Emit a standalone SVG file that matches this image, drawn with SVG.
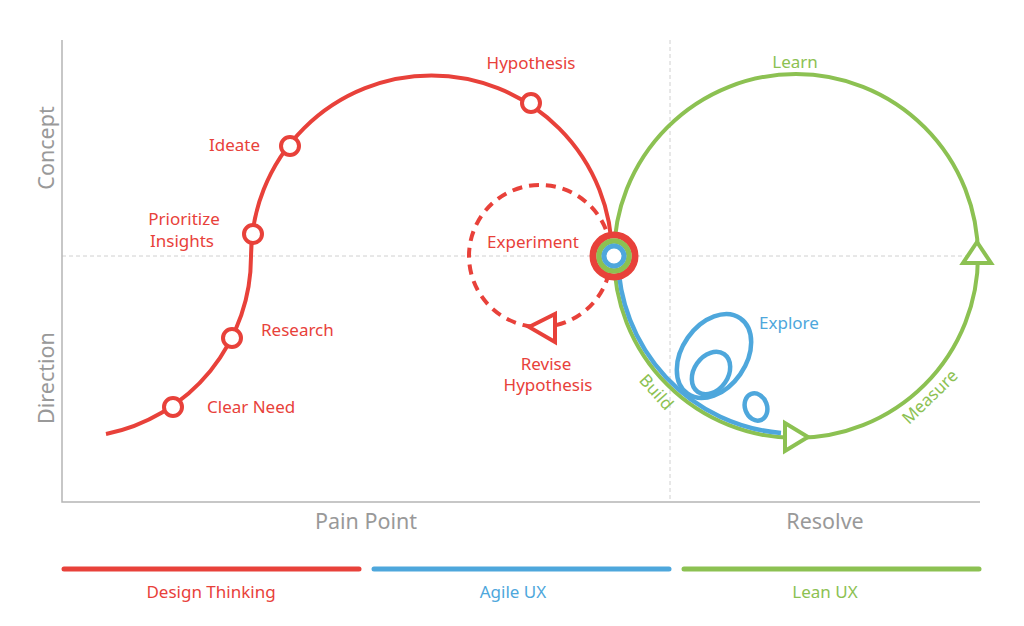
<svg xmlns="http://www.w3.org/2000/svg" width="1024" height="626" viewBox="0 0 1024 626">
<style>
.red{stroke:#e8413a;fill:none;stroke-width:4}
.grn{stroke:#8cc152;fill:none;stroke-width:4}
.blu{stroke:#4ea7dc;fill:none;stroke-width:4.5}
.node{fill:#fff;stroke:#e8413a;stroke-width:4}
.tr{fill:#e8413a}
.tg{fill:#8cc152}
.tb{fill:#4ea7dc}
.lbl{font-family:"Noto Sans","Liberation Sans",sans-serif;font-size:17px}
.ax{font-family:"Noto Sans","Liberation Sans",sans-serif;font-size:21.5px;fill:#999}
.grid{stroke:#d0d0d0;stroke-width:1;stroke-dasharray:4 3;fill:none}
</style>
<rect width="1024" height="626" fill="#fff"/>
<g id="axes">
<line class="grid" x1="62" y1="256" x2="980" y2="256"/>
<line class="grid" x1="670" y1="40" x2="670" y2="502"/>
<path d="M62,40 V502 H980" fill="none" stroke="#b5b5b5" stroke-width="1.5"/>
<text class="ax" transform="translate(54,148) rotate(-90)" text-anchor="middle">Concept</text>
<text class="ax" transform="translate(54,378) rotate(-90)" text-anchor="middle">Direction</text>
<text class="ax" x="366" y="529" text-anchor="middle">Pain Point</text>
<text class="ax" x="825" y="529" text-anchor="middle">Resolve</text>
</g>
<g id="connectors">
<circle class="red" cx="540" cy="256" r="71" stroke-dasharray="10 7"/>
<path class="red" d="M106,434 A181,181 0 0 0 251,256 A180.5,180.5 0 0 1 612,256"/>
<circle class="grn" cx="796" cy="256" r="182"/>
<path class="blu" d="M618,258 A178,178 0 0 0 781,433"/>
<ellipse class="blu" cx="714" cy="356" rx="46" ry="32" transform="rotate(-55 714 356)"/>
<ellipse class="blu" cx="711" cy="373" rx="23" ry="17" transform="rotate(-55 711 373)"/>
<ellipse class="blu" cx="756" cy="407" rx="11" ry="14" transform="rotate(-20 756 407)"/>
<polygon points="529,327 555,314 555,342" fill="#fff" stroke="#e8413a" stroke-width="4"/>
<polygon points="785,423 785,451 808,437" fill="#fff" stroke="#8cc152" stroke-width="4"/>
<polygon points="977,242 963,263 991,263" fill="#fff" stroke="#8cc152" stroke-width="4"/>
</g>
<g id="n-clear-need"><circle class="node" cx="173" cy="407" r="9"/><text class="lbl tr" x="207" y="413">Clear Need</text></g>
<g id="n-research"><circle class="node" cx="232" cy="338" r="9"/><text class="lbl tr" x="261" y="336">Research</text></g>
<g id="n-prioritize"><circle class="node" cx="253" cy="234" r="9"/><text class="lbl tr" x="184" y="225" text-anchor="middle">Prioritize</text><text class="lbl tr" x="182" y="247" text-anchor="middle">Insights</text></g>
<g id="n-ideate"><circle class="node" cx="290" cy="146" r="9"/><text class="lbl tr" x="260" y="151" text-anchor="end">Ideate</text></g>
<g id="n-hypothesis"><circle class="node" cx="531" cy="103" r="9"/><text class="lbl tr" x="531" y="69" text-anchor="middle">Hypothesis</text></g>
<g id="n-experiment"><text class="lbl tr" x="533" y="248" text-anchor="middle">Experiment</text></g>
<g id="n-revise"><text class="lbl tr" x="546" y="370" text-anchor="middle">Revise</text><text class="lbl tr" x="548" y="391" text-anchor="middle">Hypothesis</text></g>
<g id="n-center">
<circle cx="614" cy="256" r="21" fill="#fff" stroke="#e8413a" stroke-width="7"/>
<circle cx="614" cy="256" r="15" fill="none" stroke="#8cc152" stroke-width="5.5"/>
<circle cx="614" cy="256" r="10" fill="#fff" stroke="#4ea7dc" stroke-width="5"/>
</g>
<g id="n-learn"><text class="lbl tg" x="795" y="68" text-anchor="middle">Learn</text></g>
<g id="n-explore"><text class="lbl tb" x="759" y="329">Explore</text></g>
<g id="n-build"><text class="lbl tg" transform="translate(652,396) rotate(48)" text-anchor="middle">Build</text></g>
<g id="n-measure"><text class="lbl tg" transform="translate(934,401) rotate(-44)" text-anchor="middle">Measure</text></g>
<g id="legend">
<line x1="64" y1="569" x2="359" y2="569" stroke="#e8413a" stroke-width="5" stroke-linecap="round"/>
<line x1="374" y1="569" x2="669" y2="569" stroke="#4ea7dc" stroke-width="5" stroke-linecap="round"/>
<line x1="684" y1="569" x2="979" y2="569" stroke="#8cc152" stroke-width="5" stroke-linecap="round"/>
<text class="lbl tr" x="211" y="598" text-anchor="middle">Design Thinking</text>
<text class="lbl tb" x="513" y="598" text-anchor="middle">Agile UX</text>
<text class="lbl tg" x="825" y="598" text-anchor="middle">Lean UX</text>
</g>
</svg>
